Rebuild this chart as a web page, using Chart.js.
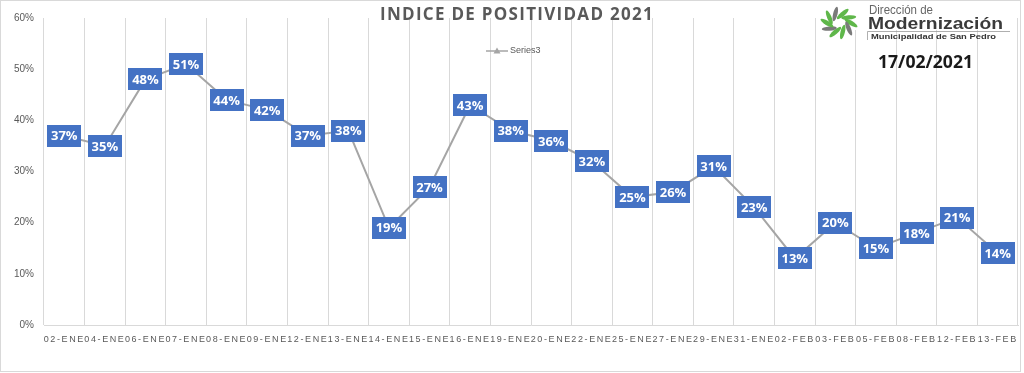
<!DOCTYPE html>
<html>
<head>
<meta charset="utf-8">
<script src="https://cdn.jsdelivr.net/npm/chart.js@4.4.0/dist/chart.umd.min.js"></script>
<style>
  html, body { margin: 0; padding: 0; background: #fff; }
  canvas { display: block; }
</style>
</head>
<body>
<canvas id="positividad" width="1024" height="373"></canvas>
<script>
// ====== Data ======
const fechas = [
  "02-ENE", "04-ENE", "06-ENE", "07-ENE", "08-ENE", "09-ENE", "12-ENE", "13-ENE",
  "14-ENE", "15-ENE", "16-ENE", "19-ENE", "20-ENE", "22-ENE", "25-ENE", "27-ENE",
  "29-ENE", "31-ENE", "02-FEB", "03-FEB", "05-FEB", "08-FEB", "12-FEB", "13-FEB"
];
const positividad = [37, 35, 48, 51, 44, 42, 37, 38, 19, 27, 43, 38, 36, 32, 25, 26, 31, 23, 13, 20, 15, 18, 21, 14];
const yTicks = [0, 10, 20, 30, 40, 50, 60];

const tituloTexto = "INDICE DE POSITIVIDAD 2021";
const serieNombre = "Series3";
const fechaReporte = "17/02/2021";

const GRAY_TEXT = "#595959";
const GRID = "#d9d9d9";
const BLUE = "#4472c4";
const LINE = "#a5a5a5";

// draw text squeezed/stretched to a given width
const fitText = (ctx, text, x, y, width) => {
  const w = ctx.measureText(text).width;
  ctx.save();
  ctx.translate(x, y);
  ctx.scale(width / w, 1);
  ctx.fillText(text, 0, 0);
  ctx.restore();
};

// ====== Plugins ======
// x tick labels are spaced out like the original; reset before datasets
const spacedTicks = {
  id: "spacedTicks",
  beforeDraw(chart) {
    const ctx = chart.ctx;
    ctx.save();
    ctx.fillStyle = "#fff";
    ctx.fillRect(0, 0, chart.width, chart.height);
    ctx.restore();
    ctx.letterSpacing = "1.6px";
  },
  beforeDatasetsDraw(chart) {
    chart.ctx.letterSpacing = "0px";
  },
};

const decorations = {
  id: "decorations",
  afterDraw(chart) {
    const ctx = chart.ctx;
    ctx.save();

    // outer frame
    ctx.strokeStyle = GRID;
    ctx.lineWidth = 1;
    ctx.strokeRect(0.5, 0.5, 1020, 371);

    // title
    ctx.fillStyle = GRAY_TEXT;
    ctx.font = 'bold 17px "Open Sans"';
    ctx.textBaseline = "alphabetic";
    ctx.textAlign = "left";
    ctx.letterSpacing = "0px";
    const w0 = ctx.measureText(tituloTexto).width;
    ctx.letterSpacing = ((274 - w0) / tituloTexto.length) + "px";
    ctx.fillText(tituloTexto, 380, 20);
    ctx.letterSpacing = "0px";

    // legend
    ctx.strokeStyle = LINE;
    ctx.lineWidth = 1.5;
    ctx.beginPath();
    ctx.moveTo(486, 51);
    ctx.lineTo(508, 51);
    ctx.stroke();
    ctx.fillStyle = LINE;
    ctx.beginPath();
    ctx.moveTo(497, 47.5);
    ctx.lineTo(500.5, 53.5);
    ctx.lineTo(493.5, 53.5);
    ctx.closePath();
    ctx.fill();
    ctx.fillStyle = GRAY_TEXT;
    ctx.font = '9px "Liberation Sans"';
    ctx.textBaseline = "middle";
    ctx.fillText(serieNombre, 510, 51);

    // logo background
    ctx.fillStyle = "#fff";
    ctx.fillRect(818, 2, 198, 28);

    // logo icon
    const cx = 839, cy = 23;
    for (let i = 0; i < 10; i++) {
      const a = (i / 10) * Math.PI * 2;
      ctx.save();
      ctx.translate(cx + Math.cos(a) * 12, cy + Math.sin(a) * 9.5);
      ctx.rotate(a + 0.55);
      ctx.fillStyle = i % 3 === 1 ? "#7a7a7a" : "#5fb74a";
      ctx.beginPath();
      ctx.ellipse(0, 0, 7.5, 2.2, 0, 0, Math.PI * 2);
      ctx.fill();
      ctx.restore();
    }

    // logo text
    ctx.textBaseline = "alphabetic";
    ctx.fillStyle = "#666";
    ctx.font = '12px "Liberation Sans"';
    fitText(ctx, "Dirección de", 869, 14, 64);
    ctx.fillStyle = "#3a3a3a";
    ctx.font = 'bold 17px "Liberation Sans"';
    fitText(ctx, "Modernización", 868, 29, 135);
    ctx.strokeStyle = "#9a9a9a";
    ctx.lineWidth = 0.8;
    ctx.beginPath();
    ctx.moveTo(867.5, 40);
    ctx.lineTo(867.5, 31.5);
    ctx.lineTo(1010, 31.5);
    ctx.stroke();
    ctx.fillStyle = "#333";
    ctx.font = 'bold 8px "Liberation Sans"';
    fitText(ctx, "Municipalidad de San Pedro", 871, 39, 125);

    // report date
    ctx.fillStyle = "#1a1a1a";
    ctx.font = 'bold 18px "Open Sans"';
    fitText(ctx, fechaReporte, 878, 68, 95);

    ctx.restore();
  },
};

const boxLabels = {
  id: "boxLabels",
  afterDatasetsDraw(chart) {
    const ctx = chart.ctx;
    const meta = chart.getDatasetMeta(0);
    ctx.save();
    ctx.letterSpacing = "0px";
    ctx.font = 'bold 13px "Open Sans"';
    ctx.textAlign = "center";
    ctx.textBaseline = "middle";
    meta.data.forEach((pt, i) => {
      const bw = 34, bh = 22;
      ctx.fillStyle = BLUE;
      ctx.fillRect(Math.round(pt.x - bw / 2), Math.round(pt.y - bh / 2), bw, bh);
      ctx.fillStyle = "#fff";
      ctx.fillText(positividad[i] + "%", pt.x, pt.y + 1);
    });
    ctx.restore();
  },
};

// ====== Chart Setup ======
const ctx = document.getElementById("positividad").getContext("2d");

new Chart(ctx, {
  type: "line",
  data: {
    labels: fechas,
    datasets: [
      {
        label: serieNombre,
        data: positividad,
        borderColor: LINE,
        borderWidth: 2,
        pointStyle: "triangle",
        pointRadius: 4,
        pointBackgroundColor: LINE,
        pointBorderColor: LINE,
        tension: 0,
      },
    ],
  },
  options: {
    responsive: false,
    animation: false,
    devicePixelRatio: 1,
    layout: { padding: { top: 18, right: 6, bottom: 0, left: 0 } },
    plugins: {
      legend: { display: false },
      title: { display: false },
      tooltip: { enabled: false },
    },
    scales: {
      x: {
        offset: true,
        grid: { offset: true, color: GRID, lineWidth: 1, drawTicks: false },
        border: { display: true, color: GRID },
        ticks: {
          color: GRAY_TEXT,
          font: { family: '"Liberation Sans"', size: 9 },
          padding: 9,
          maxRotation: 0,
          autoSkip: false,
        },
        afterFit: (scale) => { scale.height = 48; },
      },
      y: {
        min: 0,
        max: 60,
        grid: { display: false, drawTicks: false },
        border: { display: false },
        afterBuildTicks: (scale) => { scale.ticks = yTicks.map((v) => ({ value: v })); },
        ticks: {
          z: 1,
          color: GRAY_TEXT,
          font: { family: '"Liberation Sans"', size: 10 },
          padding: 10,
          callback: (v) => v + "%",
        },
        afterFit: (scale) => { scale.width = 44; },
      },
    },
  },
  plugins: [spacedTicks, boxLabels, decorations],
});
</script>
</body>
</html>
